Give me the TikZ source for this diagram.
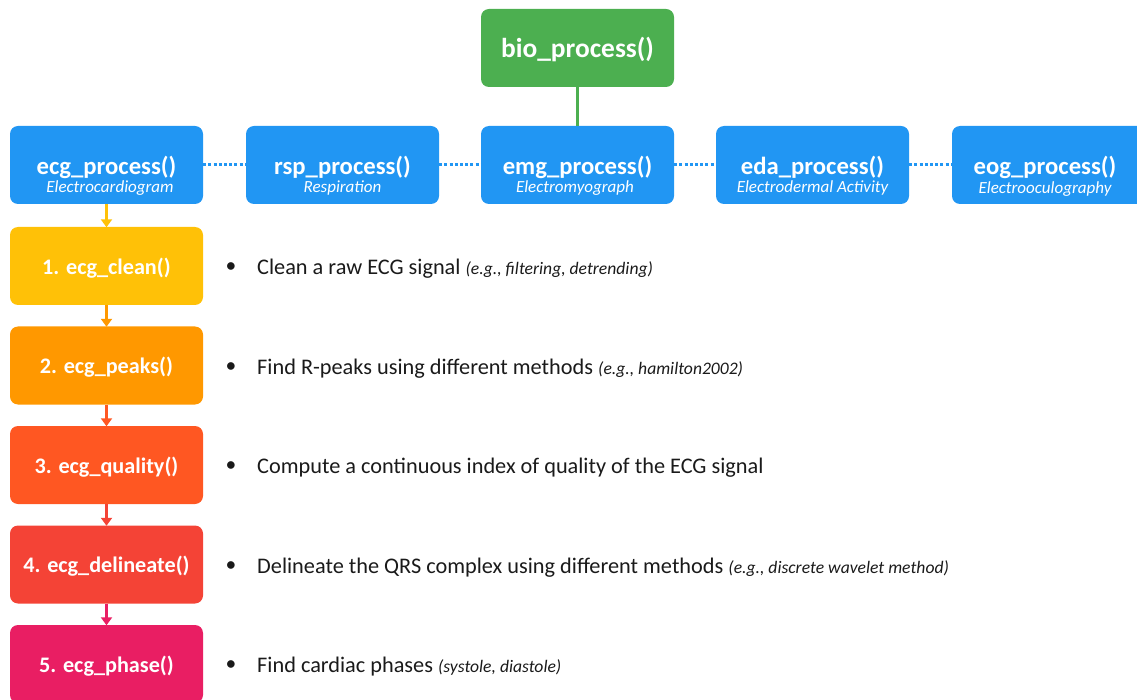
\documentclass[tikz,border=0pt]{standalone}
\usepackage{fontspec}
\setmainfont{Carlito}
\usetikzlibrary{arrows.meta}
\definecolor{cgreen}{HTML}{4CAF50}
\definecolor{cblue}{HTML}{2196F3}
\definecolor{cyellow}{HTML}{FFC107}
\definecolor{corange}{HTML}{FF9800}
\definecolor{cdeep}{HTML}{FF5722}
\definecolor{cred}{HTML}{F44336}
\definecolor{cpink}{HTML}{E91E63}
\definecolor{ctext}{HTML}{1A1A1A}
\newcommand\egtxt[1]{{\itshape\fontsize{17.6}{19}\selectfont #1}}
\newcommand\lowtxt[1]{\raisebox{-2pt}[\height][\depth]{#1}}
\tikzset{
  box/.style={rounded corners=8pt, minimum width=193pt, minimum height=78pt, inner sep=0pt, text=white},
  title/.style={text=white, font=\bfseries\fontsize{24.7}{28}\selectfont, inner sep=0pt},
  sub/.style={text=white, font=\itshape\fontsize{17}{19}\selectfont, inner sep=0pt},
  stepbox/.style={box, font=\bfseries\fontsize{22.2}{25}\selectfont},
  dots/.style={cblue, line width=3pt, dash pattern=on 3pt off 2.2pt},
  flow/.style={line width=3pt, -{Triangle[width=11pt,length=8pt]}, shorten >=-0.5pt},
  bul/.style={text=ctext, font=\fontsize{21.5}{24}\selectfont, inner sep=0pt},
  desc/.style={text=ctext, font=\fontsize{22.3}{24}\selectfont, anchor=west, inner sep=0pt}
}
\begin{document}
\begin{tikzpicture}[x=1pt,y=-1pt]
\useasboundingbox (0,0) rectangle (1137,700);
% top
\node[box, fill=cgreen, font=\bfseries\fontsize{27.4}{30}\selectfont] (bio) at (577.5,48) {};
\node[text=white, font=\bfseries\fontsize{27.4}{30}\selectfont, inner sep=0pt] (biot) at (577.5,49.5) {bio\_process()};
% row of blue boxes
\node[box, fill=cblue] (ecg) at (106.5,165) {};
\node[box, fill=cblue] (rsp) at (342.5,165) {};
\node[box, fill=cblue] (emg) at (577.5,165) {};
\node[box, fill=cblue] (eda) at (812.5,165) {};
\node[box, fill=cblue] (eog) at (1048.5,165) {};
\node[title] (ecgt) at (106.5,167.5) {ecg\_process()};
\node[sub] (ecgs) at (110,188) {Electrocardiogram};
\node[title] (rspt) at (342.5,167.5) {rsp\_process()};
\node[sub] (rsps) at (342.5,188) {Respiration};
\node[title] (emgt) at (577.5,167.5) {emg\_process()};
\node[sub] (emgs) at (575,188) {Electromyograph};
\node[title] (edat) at (812.5,167.5) {eda\_process()};
\node[sub] (edas) at (812.5,188) {Electrodermal Activity};
\node[title] (eogt) at (1045,167.5) {eog\_process()};
\node[sub] (eogs) at (1045,189) {Electrooculography};
% connectors
\draw[cgreen, line width=3pt] (bio.south) -- (emg.north);
\draw[dots] (ecg.east |- 0,165) -- (rsp.west |- 0,165);
\draw[dots] (rsp.east |- 0,165) -- (emg.west |- 0,165);
\draw[dots] (emg.east |- 0,165) -- (eda.west |- 0,165);
\draw[dots] (eda.east |- 0,165) -- (eog.west |- 0,165);
% steps
\node[stepbox, fill=cyellow] (s1) at (106.5,266) {\lowtxt{1. ecg\_clean()}};
\node[stepbox, fill=corange] (s2) at (106.5,365.5) {\lowtxt{2. ecg\_peaks()}};
\node[stepbox, fill=cdeep] (s3) at (106.5,465) {\lowtxt{3. ecg\_quality()}};
\node[stepbox, fill=cred] (s4) at (106.5,564.5) {\lowtxt{4. ecg\_delineate()}};
\node[stepbox, fill=cpink] (s5) at (106.5,664) {\lowtxt{5. ecg\_phase()}};
\draw[flow, cyellow] (ecg) -- (s1);
\draw[flow, corange] (s1) -- (s2);
\draw[flow, cdeep] (s2) -- (s3);
\draw[flow, cred] (s3) -- (s4);
\draw[flow, cpink] (s4) -- (s5);
% bullets
\node[bul] (b1) at (231,268) {•};
\node[desc] (d1) at (257,268.5) {Clean a raw ECG signal \egtxt{(e.g., filtering, detrending)}};
\node[bul] (b2) at (231,368) {•};
\node[desc] (d2) at (257,368.5) {Find R-peaks using different methods \egtxt{(e.g., hamilton2002)}};
\node[bul] (b3) at (231,467) {•};
\node[desc] (d3) at (257,467.5) {Compute a continuous index of quality of the ECG signal};
\node[bul] (b4) at (231,567) {•};
\node[desc] (d4) at (257,567.5) {Delineate the QRS complex using different methods \egtxt{(e.g., discrete wavelet method)}};
\node[bul] (b5) at (231,666) {•};
\node[desc] (d5) at (257,666.5) {Find cardiac phases \egtxt{(systole, diastole)}};
\end{tikzpicture}
\end{document}
